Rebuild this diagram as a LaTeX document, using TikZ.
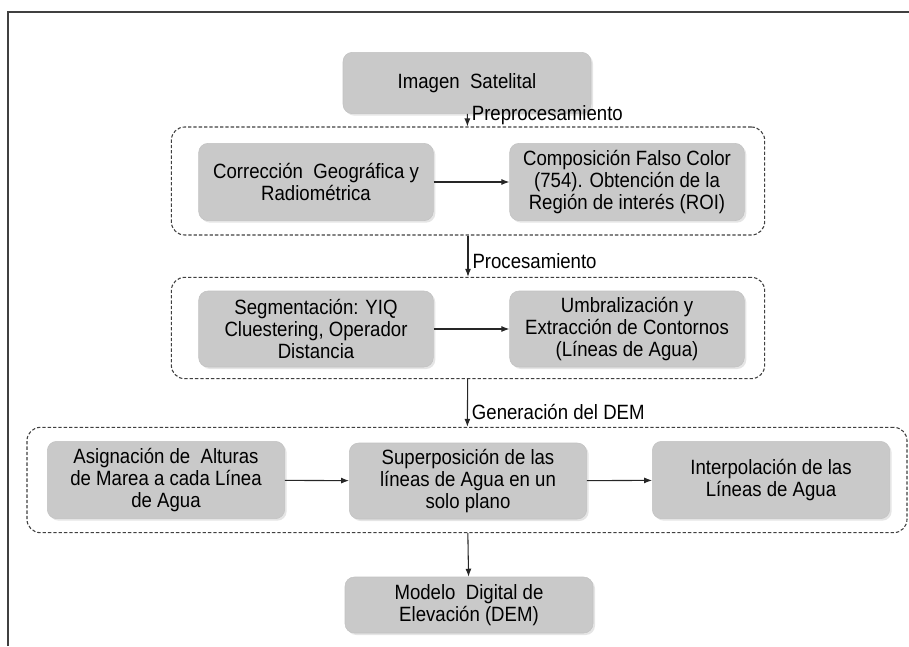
\documentclass[tikz,border=0pt]{standalone}
\usepackage{fontspec}
\setmainfont{Liberation Sans}[FakeStretch=0.9]
\usetikzlibrary{arrows.meta,shadows}

\begin{document}
\begin{tikzpicture}[x=0.75pt, y=-0.75pt,
    box/.style={shape=rectangle, rounded corners=7pt, fill=gray!42, draw=gray!48,
        align=center, text=black, font=\fontsize{15.5}{16.5}\selectfont,
        drop shadow={shadow xshift=1.5pt, shadow yshift=-1.5pt, fill=gray!50, opacity=0.4}},
    stage/.style={shape=rectangle, rounded corners=10pt, draw=black!75, dashed,
        dash pattern=on 2.5pt off 1.5pt, line width=0.8pt},
    flow/.style={-{Latex[length=6pt,width=4.5pt]}, line width=0.8pt, black!85},
    tag/.style={right, font=\fontsize{15.5}{16.5}\selectfont, text=black, inner sep=3pt}]
    \useasboundingbox (0,0) rectangle (909,646);

    \draw [line width=1.6pt, black!75] (8,646) -- (8,12) -- (909,12);

    % dashed stages
    \node [stage, minimum width=445pt, minimum height=81pt] (pre)  at (468,181) {};
    \node [stage, minimum width=445pt, minimum height=76pt] (proc) at (468,328) {};
    \node [stage, minimum width=660pt, minimum height=79pt] (dem)  at (467,480) {};

    % boxes
    \node [box, minimum width=186pt, minimum height=46pt] (img) at (467,83) {Imagen\ \ Satelital};

    \node [box, minimum width=176pt, minimum height=58pt] (geo)  at (316,182)
        {Corrección\ \ Geográfica y\\Radiométrica};
    \node [box, minimum width=176pt, minimum height=58pt] (roi)  at (627,182)
        {Composición Falso Color\\(754). Obtención de la\\Región de interés (ROI)};

    \node [box, minimum width=176pt, minimum height=57pt] (seg)  at (316,329)
        {Segmentación: YIQ\\Cluestering, Operador\\Distancia};
    \node [box, minimum width=176pt, minimum height=57pt] (umb)  at (627,329)
        {Umbralización y\\Extracción de Contornos\\(Líneas de Agua)};

    \node [box, minimum width=178pt, minimum height=58pt] (alt)  at (166,480)
        {Asignación de\ \ Alturas\\de Marea a cada Línea\\de Agua};
    \node [box, minimum width=178pt, minimum height=57pt] (sup)  at (468,481)
        {Superposición de las\\líneas de Agua en un\\solo plano};
    \node [box, minimum width=178pt, minimum height=58pt] (intp) at (771,480)
        {Interpolación de las\\Líneas de Agua};

    \node [box, minimum width=186pt, minimum height=42pt] (mde) at (469,605)
        {Modelo\ \ Digital de\\Elevación (DEM)};

    % connectors
    \draw [flow] (img) -- (pre) node [tag, pos=0.1] (lpre) {Preprocesamiento};
    \draw [flow] (geo) -- (roi);
    \draw [flow] (pre) -- (proc) node [tag, pos=0.63] (lproc) {Procesamiento};
    \draw [flow] (seg) -- (umb);
    \draw [flow] (proc) -- (dem) node [tag, pos=0.69] (ldem) {Generación del DEM};
    \draw [flow] (alt) -- (sup);
    \draw [flow] (sup) -- (intp);
    \draw [flow] (dem) -- (mde);
\end{tikzpicture}
\end{document}
